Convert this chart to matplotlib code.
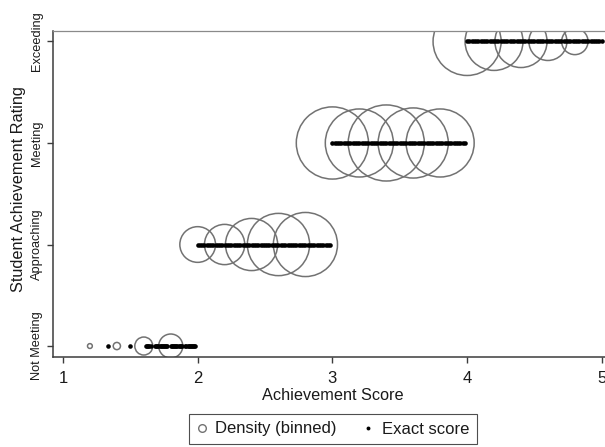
import numpy as np
import matplotlib.pyplot as plt
from matplotlib.lines import Line2D

plt.rcParams['font.family'] = ['Liberation Sans', 'DejaVu Sans']

# rating levels on the y axis
ratings = ['Not Meeting', 'Approaching', 'Meeting', 'Exceeding']

# binned densities (bin centre, relative density) per rating
bin_centres = [
    [1.2, 1.4, 1.6, 1.8],
    [2.0, 2.2, 2.4, 2.6, 2.8],
    [3.0, 3.2, 3.4, 3.6, 3.8],
    [4.0, 4.2, 4.4, 4.6, 4.8],
]
bin_density = [
    [0.004, 0.009, 0.056, 0.10],
    [0.22, 0.28, 0.47, 0.67, 0.71],
    [0.90, 0.80, 1.00, 0.85, 0.80],
    [0.80, 0.58, 0.47, 0.25, 0.12],
]

# exact achievement scores observed per rating
scores_not_meeting = [
    1.333, 1.5,
    1.617, 1.625, 1.633, 1.642, 1.65,
    1.683, 1.692, 1.7, 1.708, 1.717, 1.725, 1.733, 1.742, 1.75, 1.758,
    1.767, 1.775,
    1.8, 1.808, 1.817, 1.825, 1.833, 1.842, 1.85, 1.858, 1.867, 1.875,
    1.883,
    1.908, 1.917, 1.925, 1.933, 1.942, 1.95, 1.958, 1.967, 1.975, 1.983,
]
scores_approaching = [
    2.0, 2.017, 2.033, 2.05, 2.067, 2.083,
    2.1, 2.117, 2.133, 2.15, 2.167, 2.183,
    2.2, 2.217, 2.233, 2.25, 2.267, 2.283,
    2.3, 2.317, 2.333, 2.35, 2.367, 2.383,
    2.4, 2.417, 2.433, 2.45, 2.467, 2.483,
    2.5, 2.517, 2.533, 2.55, 2.567, 2.583,
    2.6, 2.617, 2.633, 2.65, 2.667, 2.683,
    2.7, 2.717, 2.733, 2.75, 2.767, 2.783,
    2.8, 2.817, 2.833, 2.85, 2.867, 2.883,
    2.9, 2.917, 2.933, 2.95, 2.967, 2.983,
]
scores_meeting = [
    3.0, 3.017, 3.033, 3.05, 3.067, 3.083,
    3.1, 3.117, 3.133, 3.15, 3.167, 3.183,
    3.2, 3.217, 3.233, 3.25, 3.267, 3.283,
    3.3, 3.317, 3.333, 3.35, 3.367, 3.383,
    3.4, 3.417, 3.433, 3.45, 3.467, 3.483,
    3.5, 3.517, 3.533, 3.55, 3.567, 3.583,
    3.6, 3.617, 3.633, 3.65, 3.667, 3.683,
    3.7, 3.717, 3.733, 3.75, 3.767, 3.783,
    3.8, 3.817, 3.833, 3.85, 3.867, 3.883,
    3.9, 3.917, 3.933, 3.95, 3.967, 3.983,
]
scores_exceeding = [
    4.0, 4.017, 4.033, 4.05, 4.067, 4.083,
    4.1, 4.117, 4.133, 4.15, 4.167, 4.183,
    4.2, 4.217, 4.233, 4.25, 4.267, 4.283,
    4.3, 4.317, 4.333, 4.35, 4.367, 4.383,
    4.4, 4.417, 4.433, 4.45, 4.467, 4.483,
    4.5, 4.517, 4.533, 4.55, 4.567, 4.583,
    4.6, 4.617, 4.633, 4.65, 4.667, 4.683,
    4.7, 4.717, 4.733, 4.75, 4.767, 4.783,
    4.8, 4.817, 4.833, 4.85, 4.867, 4.883,
    4.9, 4.917, 4.933, 4.95, 4.967, 4.983, 5.0,
]
exact_scores = [scores_not_meeting, scores_approaching, scores_meeting,
                scores_exceeding]

xticks = [1, 2, 3, 4, 5]

SIZE_SCALE = 3000   # marker area (pt^2) for density 1.0
CIRCLE_COL = '#727272'
AXIS_COL = '#3c3c3c'
TEXT_COL = '#1a1a1a'

fig = plt.figure(figsize=(6.05, 4.47), dpi=100)
ax = fig.add_axes([53 / 605, 90 / 447, 576 / 605, 326 / 447])

for i, rating in enumerate(ratings):
    xs = np.array(bin_centres[i])
    dens = np.array(bin_density[i])
    ax.scatter(xs, np.full(len(xs), i), s=dens * SIZE_SCALE,
               facecolors='none', edgecolors=CIRCLE_COL, linewidths=1.1,
               zorder=2)
    ex = np.array(exact_scores[i])
    ax.plot(ex, np.full(len(ex), i), linestyle='none', marker='o',
            markersize=3.3, color='black', markeredgewidth=0, zorder=3)

ax.set_xlim(0.926, 5.202)
ax.set_ylim(-0.108, 3.103)

ax.set_xticks(xticks)
ax.set_xticklabels([str(t) for t in xticks], fontsize=12, color=TEXT_COL)
ax.set_yticks(range(len(ratings)))
ax.set_yticklabels(ratings, rotation=90, va='center', fontsize=9.2,
                   color=TEXT_COL)
ax.tick_params(axis='x', direction='out', length=4, width=1.0,
               color=AXIS_COL, pad=6)
ax.tick_params(axis='y', direction='out', length=4, width=1.0,
               color=AXIS_COL, pad=3)

ax.spines['right'].set_visible(False)
ax.spines['left'].set_color(AXIS_COL)
ax.spines['bottom'].set_color(AXIS_COL)
ax.spines['left'].set_linewidth(1.1)
ax.spines['bottom'].set_linewidth(1.1)
ax.spines['top'].set_color('#8a8a8a')
ax.spines['top'].set_linewidth(0.9)

fig.text(333 / 605, 1 - 395 / 447, 'Achievement Score', ha='center',
         va='center', fontsize=11.7, color=TEXT_COL)
fig.text(18.5 / 605, 1 - 189 / 447, 'Student Achievement Rating',
         rotation=90, ha='center', va='center', fontsize=11.7,
         color=TEXT_COL)

handles = [
    Line2D([], [], linestyle='none', marker='o', markersize=5.5,
           markerfacecolor='none', markeredgecolor=CIRCLE_COL,
           markeredgewidth=1.0),
    Line2D([], [], linestyle='none', marker='o', markersize=2.8,
           color='black', markeredgewidth=0),
]
leg = fig.legend(handles, ['Density (binned)', 'Exact score'], ncol=2,
                 loc='center', bbox_to_anchor=(333 / 605, 1 - 429 / 447),
                 fontsize=12, frameon=True, fancybox=False, handlelength=0.6,
                 handletextpad=0.5, columnspacing=1.6, borderpad=0.45)
leg.get_frame().set_edgecolor('#222222')
leg.get_frame().set_linewidth(0.8)
for t in leg.get_texts():
    t.set_color(TEXT_COL)

fig.savefig('out.png', dpi=100)
